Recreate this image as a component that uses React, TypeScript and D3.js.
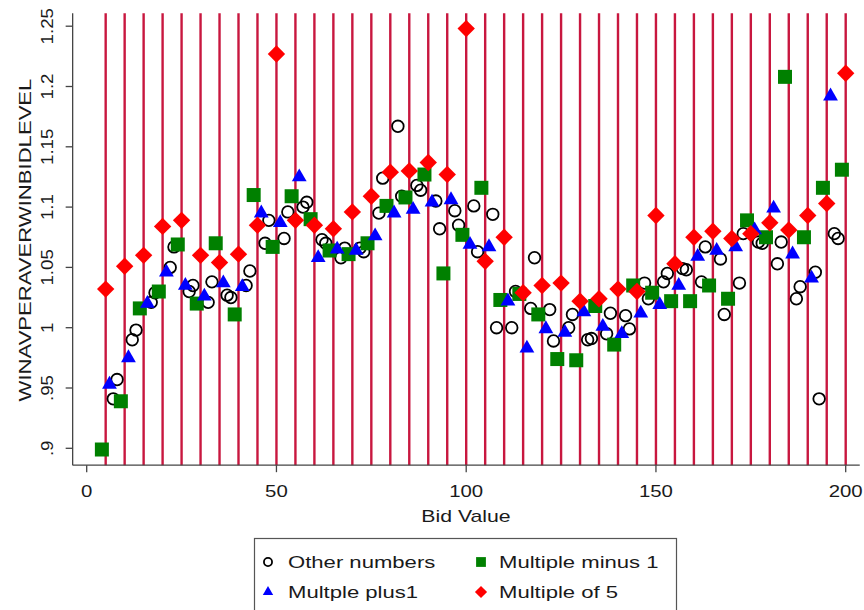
import React from "react";
import * as d3 from "d3";

// ---------- DATA ----------
const otherBids = [7, 8, 12, 13, 17, 18, 22, 23, 27, 28, 32, 33, 37, 38, 42, 43, 47, 48, 52, 53, 57, 58, 62, 63, 67, 68, 72, 73, 77, 78, 82, 83, 87, 88, 92, 93, 97, 98, 102, 103, 107, 108, 112, 113, 117, 118, 122, 123, 127, 128, 132, 133, 137, 138, 142, 143, 147, 148, 152, 153, 157, 158, 162, 163, 167, 168, 172, 173, 177, 178, 182, 183, 187, 188, 192, 193, 197, 198];
const otherVals = [0.941, 0.957, 0.990, 0.998, 1.021, 1.029, 1.050, 1.067, 1.030, 1.035, 1.021, 1.038, 1.027, 1.025, 1.035, 1.047, 1.070, 1.089, 1.074, 1.096, 1.100, 1.104, 1.073, 1.070, 1.058, 1.066, 1.066, 1.063, 1.095, 1.124, 1.167, 1.109, 1.118, 1.114, 1.105, 1.082, 1.097, 1.085, 1.101, 1.063, 1.094, 1.000, 1.000, 1.030, 1.016, 1.058, 1.015, 0.989, 1.000, 1.011, 0.990, 0.991, 0.995, 1.012, 1.010, 0.999, 1.037, 1.024, 1.038, 1.045, 1.049, 1.048, 1.038, 1.067, 1.057, 1.011, 1.037, 1.078, 1.071, 1.070, 1.053, 1.071, 1.024, 1.034, 1.046, 0.941, 1.078, 1.074];

const minus1Bids = [4, 9, 14, 19, 24, 29, 34, 39, 44, 49, 54, 59, 64, 69, 74, 79, 84, 89, 94, 99, 104, 109, 114, 119, 124, 129, 134, 139, 144, 149, 154, 159, 164, 169, 174, 179, 184, 189, 194, 199];
const minus1Vals = [0.899, 0.939, 1.016, 1.030, 1.069, 1.020, 1.070, 1.011, 1.110, 1.067, 1.109, 1.090, 1.064, 1.061, 1.070, 1.101, 1.108, 1.127, 1.045, 1.077, 1.116, 1.023, 1.028, 1.011, 0.974, 0.973, 1.018, 0.986, 1.035, 1.029, 1.022, 1.022, 1.035, 1.024, 1.089, 1.075, 1.208, 1.075, 1.116, 1.131];

const plus1Bids = [6, 11, 16, 21, 26, 31, 36, 41, 46, 51, 56, 61, 66, 71, 76, 81, 86, 91, 96, 101, 106, 111, 116, 121, 126, 131, 136, 141, 146, 151, 156, 161, 166, 171, 176, 181, 186, 191, 196];
const plus1Vals = [0.953, 0.975, 1.020, 1.046, 1.035, 1.026, 1.037, 1.034, 1.095, 1.087, 1.125, 1.058, 1.065, 1.064, 1.076, 1.095, 1.098, 1.104, 1.106, 1.069, 1.067, 1.022, 0.983, 0.999, 0.996, 1.013, 1.001, 0.995, 1.012, 1.019, 1.035, 1.059, 1.064, 1.067, 1.081, 1.099, 1.061, 1.041, 1.192];

const mult5Bids = [5, 10, 15, 20, 25, 30, 35, 40, 45, 50, 55, 60, 65, 70, 75, 80, 85, 90, 95, 100, 105, 110, 115, 120, 125, 130, 135, 140, 145, 150, 155, 160, 165, 170, 175, 180, 185, 190, 195, 200];
const mult5Vals = [1.032, 1.051, 1.060, 1.084, 1.089, 1.060, 1.054, 1.061, 1.085, 1.227, 1.089, 1.085, 1.082, 1.096, 1.109, 1.129, 1.130, 1.137, 1.127, 1.248, 1.055, 1.075, 1.029, 1.035, 1.037, 1.022, 1.024, 1.032, 1.030, 1.093, 1.053, 1.075, 1.080, 1.074, 1.078, 1.087, 1.081, 1.093, 1.103, 1.211];

const xTicks = [0, 50, 100, 150, 200];
const yTicks = [0.9, 0.95, 1, 1.05, 1.1, 1.15, 1.2, 1.25];
const yTickLabels = [".9", ".95", "1", "1.05", "1.1", "1.15", "1.2", "1.25"];

const xTitle = "Bid Value";
const yTitle = "WINAVPERAVERWINBIDLEVEL";
const legendLabels = ["Other numbers", "Multiple minus 1", "Multple plus1", "Multiple of 5"];

// ---------- LAYOUT ----------
const W = 864;
const H = 610;
const FONT = "'Liberation Sans', Arial, Helvetica, sans-serif";
const TXT = "#1a1a1a";

const x = d3.scaleLinear().domain([0, 200]).range([86.7, 845.7]);
const y = d3.scaleLinear().domain([0.9, 1.25]).range([448.3, 26.2]);

const plotLeft = x(-3.7);
const plotRight = x(203.7);
const plotTop = y(1.2607);
const plotBottom = y(0.886);

const LINE_COLOR = "#c8173f";
const C_OTHER = "#000000";
const C_M1 = "#008000";
const C_P1 = "#0000ff";
const C_M5 = "#ff0000";

const triPath = d3.symbol().type(d3.symbolTriangle).size(95)() as string;
const sqPath = d3.symbol().type(d3.symbolSquare).size(196)() as string;
const diamondPath = (r: number) => `M0,${-r}L${r},0L0,${r}L${-r},0Z`;

type Mk = "circle" | "square" | "triangle" | "diamond";

function Marker({ kind, cx, cy, s = 1 }: { kind: Mk; cx: number; cy: number; s?: number }) {
  const t = `translate(${cx},${cy}) scale(${s})`;
  if (kind === "circle")
    return <circle cx={cx} cy={cy} r={5.8 * s} fill="none" stroke={C_OTHER} strokeWidth={1.8} />;
  if (kind === "square") return <path d={sqPath} transform={t} fill={C_M1} />;
  if (kind === "triangle") return <path d={triPath} transform={t} fill={C_P1} />;
  return <path d={diamondPath(8.7)} transform={t} fill={C_M5} />;
}

export default function App() {
  const series: { kind: Mk; bids: number[]; vals: number[] }[] = [
    { kind: "circle", bids: otherBids, vals: otherVals },
    { kind: "square", bids: minus1Bids, vals: minus1Vals },
    { kind: "triangle", bids: plus1Bids, vals: plus1Vals },
    { kind: "diamond", bids: mult5Bids, vals: mult5Vals },
  ];

  const legendKinds: Mk[] = ["circle", "square", "triangle", "diamond"];
  const legCols = [268, 481];
  const legTextX = [288, 499];
  const legRows = [562, 592];

  return (
    <svg
      width={W}
      height={H}
      style={{ position: "absolute", left: 0, top: 0, background: "#fff" }}
      fontFamily={FONT}
    >
      <rect x={0} y={0} width={W} height={H} fill="#ffffff" />

      {/* reference lines at multiples of 5 */}
      {mult5Bids.map((b) => (
        <line key={"xl" + b} x1={x(b)} x2={x(b)} y1={plotTop} y2={plotBottom} stroke={LINE_COLOR} strokeWidth={2.4} />
      ))}

      {/* axes */}
      <line x1={plotLeft} x2={plotLeft} y1={plotTop} y2={plotBottom} stroke="#444" strokeWidth={1.3} />
      <line x1={plotLeft} x2={plotRight} y1={plotBottom} y2={plotBottom} stroke="#444" strokeWidth={1.3} />

      {yTicks.map((t, i) => (
        <g key={"yt" + t}>
          <line x1={plotLeft - 7} x2={plotLeft} y1={y(t)} y2={y(t)} stroke="#444" strokeWidth={1.3} />
          <g transform={`translate(${47},${y(t)}) rotate(-90) scale(1.1,1)`}>
            <text textAnchor="middle" dominantBaseline="central" fontSize={17} fill={TXT}>
              {yTickLabels[i]}
            </text>
          </g>
        </g>
      ))}
      {xTicks.map((t) => (
        <g key={"xt" + t}>
          <line x1={x(t)} x2={x(t)} y1={plotBottom} y2={plotBottom + 7} stroke="#444" strokeWidth={1.3} />
          <g transform={`translate(${x(t)},${497}) scale(1.2,1)`}>
            <text textAnchor="middle" fontSize={17} fill={TXT}>
              {t}
            </text>
          </g>
        </g>
      ))}

      <g transform={`translate(${466},${522}) scale(1.25,1)`}>
        <text textAnchor="middle" fontSize={17} fill={TXT}>
          {xTitle}
        </text>
      </g>
      <g transform={`translate(${25},${240}) rotate(-90) scale(1.3,1)`}>
        <text textAnchor="middle" dominantBaseline="central" fontSize={17} fill={TXT}>
          {yTitle}
        </text>
      </g>

      {/* data */}
      {series.map((s) =>
        s.bids.map((b, i) => <Marker key={s.kind + b} kind={s.kind} cx={x(b)} cy={y(s.vals[i])} />)
      )}

      {/* legend */}
      <rect x={254.5} y={538.5} width={422} height={80} fill="#fff" stroke="#555" strokeWidth={1.2} />
      {legendLabels.map((lab, i) => {
        const col = i % 2;
        const row = Math.floor(i / 2);
        return (
          <g key={lab}>
            <Marker kind={legendKinds[i]} cx={legCols[col]} cy={legRows[row]} s={0.7} />
            <g transform={`translate(${legTextX[col]},${legRows[row] + 6}) scale(1.3,1)`}>
              <text fontSize={17} fill={TXT}>
                {lab}
              </text>
            </g>
          </g>
        );
      })}
    </svg>
  );
}
